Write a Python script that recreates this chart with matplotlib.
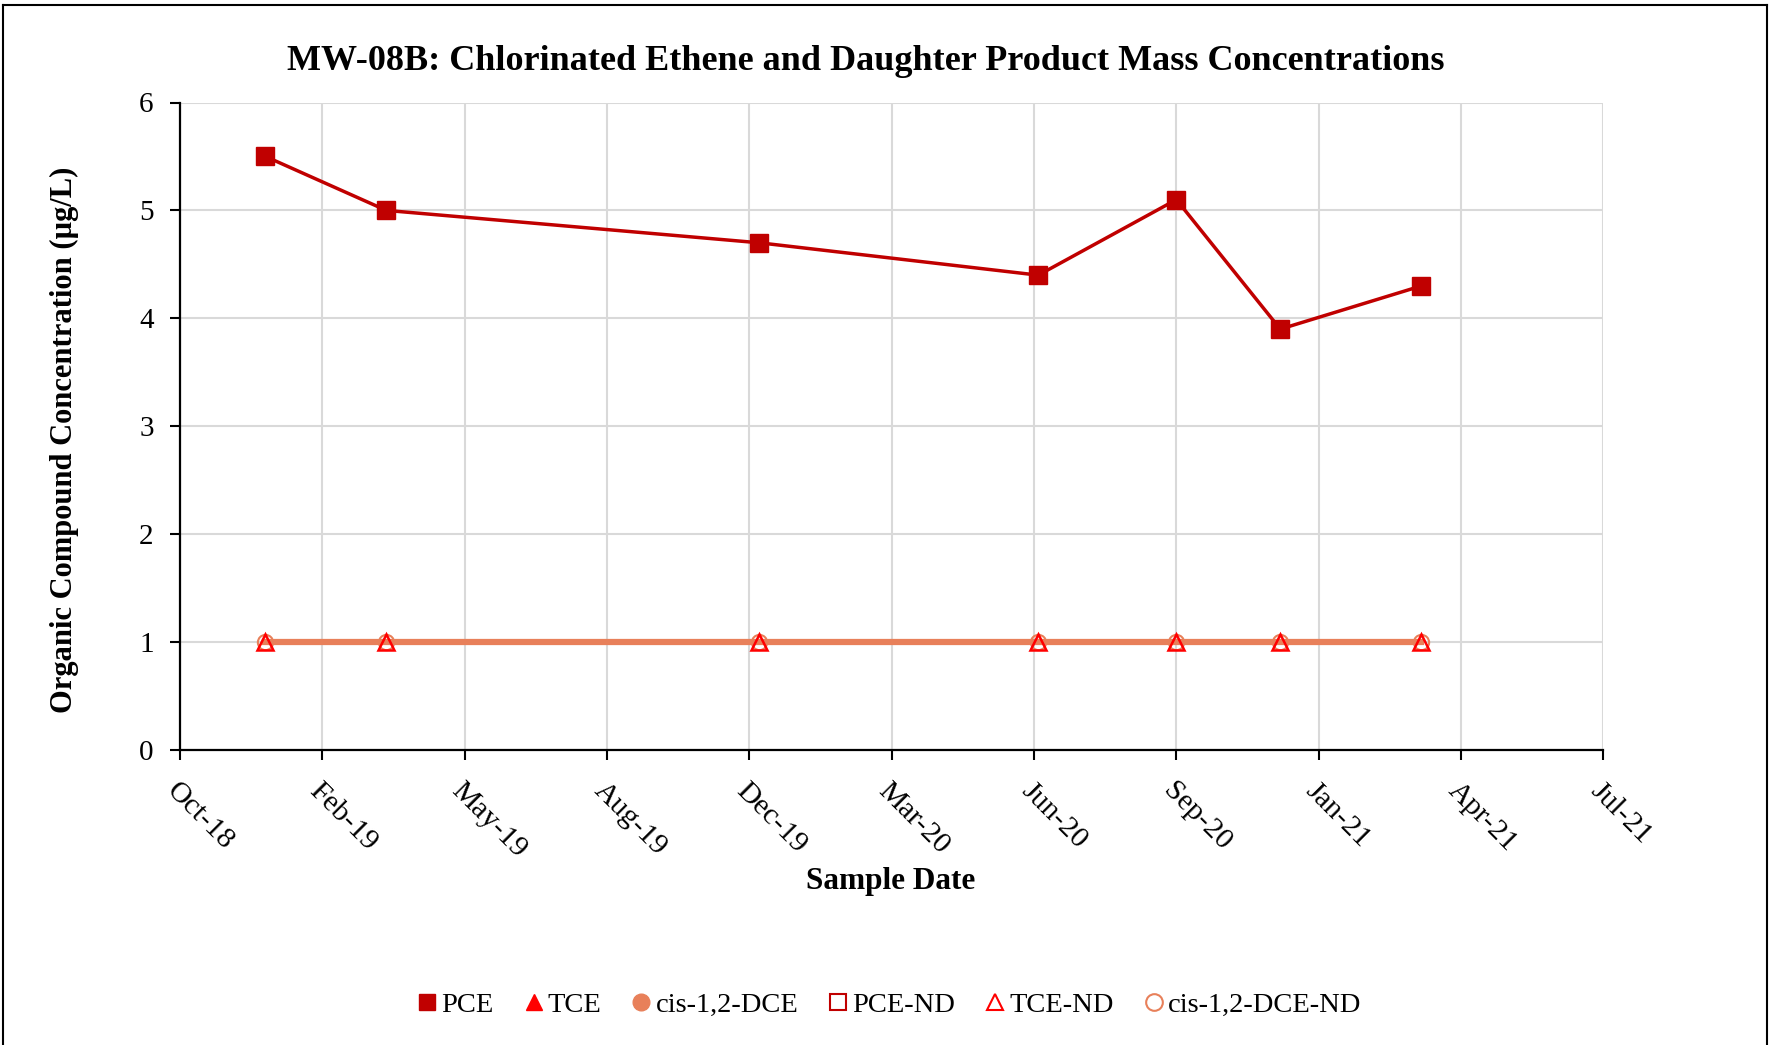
import matplotlib
matplotlib.use("Agg")
import matplotlib.pyplot as plt
import matplotlib.dates as mdates
from matplotlib.lines import Line2D
import datetime as dt

# ---- data ----
sample_dates = ["2018-12-28", "2019-03-23", "2019-12-10", "2020-06-23",
                "2020-09-28", "2020-12-10", "2021-03-19"]
pce = [5.5, 5.0, 4.7, 4.4, 5.1, 3.9, 4.3]
tce_nd = [1.0, 1.0, 1.0, 1.0, 1.0, 1.0, 1.0]
dce_nd = [1.0, 1.0, 1.0, 1.0, 1.0, 1.0, 1.0]
legend_labels = ["PCE", "TCE", "cis-1,2-DCE", "PCE-ND", "TCE-ND", "cis-1,2-DCE-ND"]
title = "MW-08B: Chlorinated Ethene and Daughter Product Mass Concentrations"
x_label = "Sample Date"
y_label = "Organic Compound Concentration (\u00b5g/L)"
x_start = "2018-10-29"
x_step_days = 100
n_x_ticks = 11
y_ticks = [0, 1, 2, 3, 4, 5, 6]

dates = [dt.datetime.strptime(d, "%Y-%m-%d") for d in sample_dates]
x0 = dt.datetime.strptime(x_start, "%Y-%m-%d")
x_ticks = [x0 + dt.timedelta(days=x_step_days * i) for i in range(n_x_ticks)]

C_PCE = "#C00000"
C_TCE = "#FF0000"
C_DCE = "#E8805A"
FONT = "Liberation Serif"

plt.rcParams["font.family"] = [FONT, "DejaVu Serif"]

W, H = 1769, 1045
fig = plt.figure(figsize=(W / 100, H / 100), dpi=100)
ax = fig.add_axes([180 / W, 1 - 750 / H, (1603.4 - 180) / W, (750 - 102.5) / H])

# grid
ax.set_axisbelow(True)
ax.grid(True, color="#D9D9D9", linewidth=1.5)

# series
ax.plot(dates, dce_nd, color=C_DCE, linewidth=4.5, marker="o", markersize=11,
        markerfacecolor="none", markeredgecolor=C_DCE, markeredgewidth=1.5, zorder=3)
ax.plot(dates, tce_nd, linestyle="none", marker="^", markersize=11,
        markerfacecolor="none", markeredgecolor=C_TCE, markeredgewidth=1.8, zorder=4)
ax.plot(dates, pce, color=C_PCE, linewidth=2.5, marker="s", markersize=12.5,
        markerfacecolor=C_PCE, markeredgecolor=C_PCE, zorder=5)

# axes
ax.set_xlim(x_ticks[0], x_ticks[-1])
ax.set_ylim(y_ticks[0], y_ticks[-1])
ax.set_xticks(x_ticks)
ax.xaxis.set_major_formatter(mdates.DateFormatter("%b-%y"))
ax.set_yticks(y_ticks)
for s in ["top", "right"]:
    ax.spines[s].set_visible(False)
for s in ["left", "bottom"]:
    ax.spines[s].set_color("black")
    ax.spines[s].set_linewidth(1.6)
ax.tick_params(axis="x", direction="out", length=7, width=1.5, pad=13, labelsize=21.5)
ax.tick_params(axis="y", direction="out", length=7, width=1.5, pad=12, labelsize=21)
for lbl in ax.get_xticklabels():
    lbl.set_rotation(-45)
    lbl.set_rotation_mode("anchor")
    lbl.set_ha("left")
    lbl.set_va("top")

fig.text(866 / W, 1 - 62 / H, title, ha="center", va="center",
         fontsize=26, fontweight="bold")
fig.text(891 / W, 1 - 882 / H, x_label, ha="center", va="center",
         fontsize=22.5, fontweight="bold")
fig.text(64 / W, 1 - 440 / H, y_label, ha="center", va="center",
         rotation=90, fontsize=22, fontweight="bold")

# legend
handles = [
    Line2D([], [], ls="none", marker="s", markersize=12, color=C_PCE),
    Line2D([], [], ls="none", marker="^", markersize=12, color=C_TCE),
    Line2D([], [], ls="none", marker="o", markersize=12, color=C_DCE),
    Line2D([], [], ls="none", marker="s", markersize=12, markerfacecolor="none",
           markeredgecolor=C_PCE, markeredgewidth=1.5),
    Line2D([], [], ls="none", marker="^", markersize=12, markerfacecolor="none",
           markeredgecolor=C_TCE, markeredgewidth=1.5),
    Line2D([], [], ls="none", marker="o", markersize=12, markerfacecolor="none",
           markeredgecolor=C_DCE, markeredgewidth=1.5),
]
fig.legend(handles, legend_labels, loc="center", bbox_to_anchor=(890 / W, 1 - 1005 / H),
           ncol=6, frameon=False, fontsize=20.5, handlelength=0.6, handletextpad=0.2,
           columnspacing=1.1)

# outer frame
frame_kw = dict(color="black", linewidth=1.5, transform=fig.transFigure)
fig.add_artist(Line2D([3 / W, 3 / W], [0, 1 - 5 / H], **frame_kw))
fig.add_artist(Line2D([3 / W, 1767 / W], [1 - 5 / H, 1 - 5 / H], **frame_kw))
fig.add_artist(Line2D([1767 / W, 1767 / W], [0, 1 - 5 / H], **frame_kw))

fig.savefig("out.png", dpi=100)
